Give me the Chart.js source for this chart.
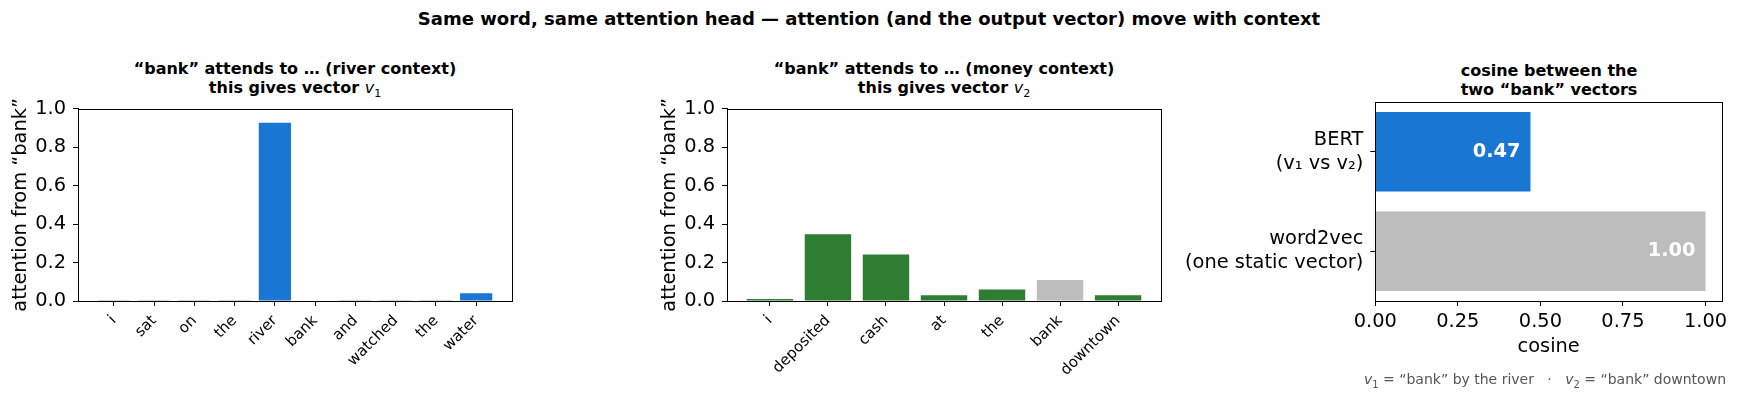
<!DOCTYPE html>
<html lang="en">
<head>
<meta charset="utf-8">
<title>bank attention</title>
<script src="https://cdn.jsdelivr.net/npm/chart.js@4.4.1/dist/chart.umd.min.js"></script>
<style>
  body { margin: 0; width: 1738px; height: 401px; background: #fff; position: relative; overflow: hidden;
         font-family: "DejaVu Sans", sans-serif; color: #000; }
  .titulo { position: absolute; left: 0; width: 1738px; top: 8px; text-align: center; font-weight: bold; font-size: 18px; }
  .sub { position: absolute; width: 500px; text-align: center; font-weight: bold; font-size: 16px; line-height: 19px; }
  .sub i { font-weight: normal; }
  .sub sub { font-weight: normal; font-size: 11px; }
  .painel { position: absolute; }
  .nota { position: absolute; right: 12px; top: 371px; font-size: 14px; color: #555; white-space: pre; }
  .nota sub { font-size: 10px; }
</style>
</head>
<body>
<div class="titulo">Same word, same attention head — attention (and the output vector) move with context</div>

<div class="sub" style="left:45px; top:59px;">“bank” attends to … (river context)<br>this gives vector <i>v</i><sub>1</sub></div>
<div class="sub" style="left:694px; top:59px;">“bank” attends to … (money context)<br>this gives vector <i>v</i><sub>2</sub></div>
<div class="sub" style="left:1299px; top:61px;">cosine between the<br>two “bank” vectors</div>

<div class="painel" style="left:0px; top:90px; width:520px; height:311px;"><canvas id="grafRio"></canvas></div>
<div class="painel" style="left:649px; top:90px; width:520px; height:311px;"><canvas id="grafDinheiro"></canvas></div>
<div class="painel" style="left:1140px; top:90px; width:598px; height:311px;"><canvas id="grafCosseno"></canvas></div>

<div class="nota"><i>v</i><sub>1</sub> = “bank” by the river   ·   <i>v</i><sub>2</sub> = “bank” downtown</div>

<script>
// Dados
const palavrasRio = ['i', 'sat', 'on', 'the', 'river', 'bank', 'and', 'watched', 'the', 'water'];
const atencaoRio = [0.001, 0.001, 0.001, 0.001, 0.926, 0.003, 0.001, 0.001, 0.001, 0.040];

const palavrasDinheiro = ['i', 'deposited', 'cash', 'at', 'the', 'bank', 'downtown'];
const atencaoDinheiro = [0.010, 0.347, 0.242, 0.030, 0.060, 0.109, 0.030];

const modelos = [['BERT', '(v₁ vs v₂)'], ['word2vec', '(one static vector)']];
const cossenos = [0.47, 1.00];

const ticksAtencao = [0, 0.2, 0.4, 0.6, 0.8, 1.0];
const ticksCosseno = [0, 0.25, 0.5, 0.75, 1.0];

const AZUL = '#1976d2';
const VERDE = '#2e7d32';
const CINZA = '#bdbdbd';

Chart.defaults.font.family = '"DejaVu Sans", sans-serif';
Chart.defaults.color = '#000';
Chart.defaults.animation = false;

// Moldura dos quatro lados (como os spines do matplotlib)
const moldura = {
  id: 'moldura',
  afterDraw(chart) {
    const { ctx, chartArea: a } = chart;
    ctx.save();
    ctx.strokeStyle = '#000';
    ctx.lineWidth = 1;
    ctx.strokeRect(Math.round(a.left) + 0.5, Math.round(a.top) + 0.5,
                   Math.round(a.right - a.left), Math.round(a.bottom - a.top));
    ctx.restore();
  }
};

// Valores escritos dentro das barras horizontais
const rotulosValor = {
  id: 'rotulosValor',
  afterDatasetsDraw(chart) {
    const { ctx } = chart;
    const meta = chart.getDatasetMeta(0);
    ctx.save();
    ctx.fillStyle = '#fff';
    ctx.font = 'bold 19.4px "DejaVu Sans"';
    ctx.textAlign = 'right';
    ctx.textBaseline = 'middle';
    meta.data.forEach((bar, i) => {
      ctx.fillText(cossenos[i].toFixed(2), bar.x - 10, bar.y);
    });
    ctx.restore();
  }
};

function eixoCategorias(palavras, margem) {
  return {
    type: 'linear',
    min: -margem,
    max: palavras.length - 1 + margem,
    offset: false,
    afterBuildTicks: (s) => { s.ticks = palavras.map((_, i) => ({ value: i })); },
    afterFit: (s) => { s.height = 100; },
    ticks: {
      autoSkip: false, minRotation: 45, maxRotation: 45, padding: 6,
      font: { size: 15 },
      callback: (v) => palavras[v]
    },
    grid: { display: true, drawOnChartArea: false, drawTicks: true, tickLength: 5, color: '#000', offset: false },
    border: { display: true, color: '#000' }
  };
}

function eixoAtencao() {
  return {
    min: 0,
    max: 1,
    afterBuildTicks: (s) => { s.ticks = ticksAtencao.map(v => ({ value: v })); },
    afterFit: (s) => { s.width = 78; },
    ticks: { font: { size: 19.4 }, padding: 7, callback: (v) => v.toFixed(1) },
    title: { display: true, text: 'attention from “bank”', font: { size: 19.4 }, padding: { top: 9 } },
    grid: { display: true, drawOnChartArea: false, drawTicks: true, tickLength: 5, color: '#000' },
    border: { display: true, color: '#000' }
  };
}

function graficoAtencao(id, palavras, valores, corBase, margem) {
  new Chart(document.getElementById(id), {
    type: 'bar',
    data: {
      datasets: [{
        data: valores.map((v, i) => ({ x: i, y: v })),
        backgroundColor: palavras.map(p => p === 'bank' ? CINZA : corBase),
        borderWidth: 0,
        categoryPercentage: 1,
        barPercentage: 0.8
      }]
    },
    options: {
      responsive: true,
      maintainAspectRatio: false,
      layout: { padding: { top: 12, right: 8, left: 0, bottom: 0 } },
      plugins: { legend: { display: false }, tooltip: { enabled: false } },
      scales: { x: eixoCategorias(palavras, margem), y: eixoAtencao() }
    },
    plugins: [moldura]
  });
}

graficoAtencao('grafRio', palavrasRio, atencaoRio, AZUL, 0.89);
graficoAtencao('grafDinheiro', palavrasDinheiro, atencaoDinheiro, VERDE, 0.74);

// Gráfico de cosseno (barras horizontais)
new Chart(document.getElementById('grafCosseno'), {
  type: 'bar',
  data: {
    labels: modelos,
    datasets: [{
      data: cossenos,
      backgroundColor: [AZUL, CINZA],
      borderWidth: 0,
      categoryPercentage: 1,
      barPercentage: 0.8
    }]
  },
  options: {
    indexAxis: 'y',
    responsive: true,
    maintainAspectRatio: false,
    layout: { padding: { top: 12, right: 16, left: 0, bottom: 0 } },
    plugins: { legend: { display: false }, tooltip: { enabled: false } },
    scales: {
      x: {
        type: 'linear',
        min: 0,
        max: 1.05,
        afterBuildTicks: (s) => { s.ticks = ticksCosseno.map(v => ({ value: v })); },
        afterFit: (s) => { s.height = 100; },
        ticks: { font: { size: 19.4 }, padding: 4, maxRotation: 0, callback: (v) => v.toFixed(2) },
        title: { display: true, text: 'cosine', font: { size: 19.4 }, padding: { top: 0, bottom: 42 } },
        grid: { display: true, drawOnChartArea: false, drawTicks: true, tickLength: 5, color: '#000' },
        border: { display: true, color: '#000' }
      },
      y: {
        type: 'category',
        offset: true,
        // largura fixa e sem folga extra em cima/embaixo por causa dos rótulos de duas linhas
        afterFit: (s) => { s.width = 235.3; s.paddingTop = 0; s.paddingBottom = 0; },
        ticks: { font: { size: 19.4, lineHeight: 1.25 }, padding: 7 },
        grid: { display: true, drawOnChartArea: false, drawTicks: true, tickLength: 5, color: '#000', offset: false },
        border: { display: true, color: '#000' }
      }
    }
  },
  plugins: [moldura, rotulosValor]
});
</script>
</body>
</html>
